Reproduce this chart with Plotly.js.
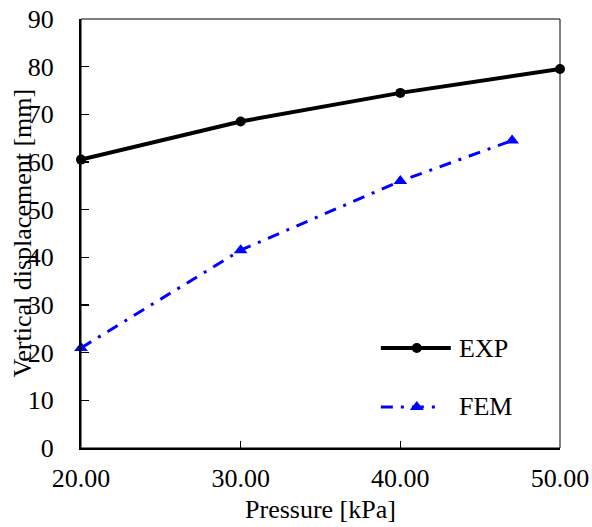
<!DOCTYPE html>
<html>
<head>
<meta charset="utf-8">
<script src="https://cdn.plot.ly/plotly-3.0.1.min.js"></script>
<style>
  html, body { margin: 0; padding: 0; background: #fff; }
  #chart { width: 592px; height: 527px; }
</style>
</head>
<body>
<div id="chart"></div>
<script>
// Measured vertical displacement vs applied pressure
var expPressure = [20, 30, 40, 50];
var expDisp = [60.5, 68.5, 74.5, 79.5];

// Finite element prediction
var femPressure = [20, 30, 40, 47];
var femDisp = [21, 41.5, 56, 64.5];

var xTicks = [20, 30, 40, 50];
var yTicks = [0, 10, 20, 30, 40, 50, 60, 70, 80, 90];

var seriesNames = ['EXP', 'FEM'];
var xTitle = 'Pressure [kPa]';
var yTitle = 'Vertical displacement [mm]';

var serif = 'Liberation Serif';
var fs = 26;
var expStyle = {
  line: { color: '#000000', width: 4 },
  marker: { symbol: 'circle', size: 10, color: '#000000' }
};
var femStyle = {
  line: { color: '#0000FF', width: 3, dash: '12px,8px,3px,8px' },
  marker: { symbol: 'triangle-up', size: 12, color: '#0000FF' }
};

var traces = [
  {
    x: expPressure, y: expDisp, name: seriesNames[0],
    mode: 'lines+markers', line: expStyle.line, marker: expStyle.marker,
    cliponaxis: false, showlegend: false
  },
  {
    x: femPressure, y: femDisp, name: seriesNames[1],
    mode: 'lines+markers', line: femStyle.line, marker: femStyle.marker,
    cliponaxis: false, showlegend: false
  },
  // legend samples drawn on an overlay axis spanning the plot area
  {
    x: [0.626, 0.701, 0.772], y: [0.233, 0.233, 0.233],
    xaxis: 'x2', yaxis: 'y2', mode: 'lines', line: expStyle.line,
    hoverinfo: 'skip', showlegend: false
  },
  {
    x: [0.701], y: [0.233],
    xaxis: 'x2', yaxis: 'y2', mode: 'markers', marker: expStyle.marker,
    hoverinfo: 'skip', showlegend: false
  },
  {
    x: [0.626, 0.701, 0.752], y: [0.0956, 0.0956, 0.0956],
    xaxis: 'x2', yaxis: 'y2', mode: 'lines', line: femStyle.line,
    hoverinfo: 'skip', showlegend: false
  },
  {
    x: [0.701], y: [0.0956],
    xaxis: 'x2', yaxis: 'y2', mode: 'markers', marker: femStyle.marker,
    hoverinfo: 'skip', showlegend: false
  }
];

var layout = {
  width: 592, height: 527,
  margin: { l: 81, r: 32, t: 19, b: 79 },
  paper_bgcolor: '#ffffff',
  plot_bgcolor: '#ffffff',
  font: { family: serif, size: fs, color: '#000000' },
  showlegend: false,
  xaxis: {
    range: [20, 50],
    tickvals: xTicks,
    ticktext: xTicks.map(function (v) { return v.toFixed(2); }),
    ticks: 'inside', ticklen: 7, tickwidth: 1.5, tickcolor: '#000',
    showline: true, linecolor: '#000', linewidth: 2,
    showgrid: false, zeroline: false,
    ticklabelstandoff: 6,
    tickfont: { family: serif, size: fs },
    title: { text: xTitle, font: { family: serif, size: fs }, standoff: 8 }
  },
  yaxis: {
    range: [0, 90],
    tickvals: yTicks,
    ticks: 'inside', ticklen: 8, tickwidth: 1.5, tickcolor: '#000',
    showline: true, linecolor: '#000', linewidth: 2,
    showgrid: false, zeroline: false,
    ticklabelstandoff: 20,
    tickfont: { family: serif, size: fs }
  },
  xaxis2: { overlaying: 'x', range: [0, 1], visible: false, fixedrange: true },
  yaxis2: { overlaying: 'y', range: [0, 1], visible: false, fixedrange: true },
  shapes: [
    {
      type: 'rect', xref: 'paper', yref: 'paper', x0: 0, x1: 1, y0: 0, y1: 1,
      line: { color: '#000', width: 1 }, layer: 'above'
    }
  ],
  annotations: [
    // y-axis title, set close against the tick labels
    {
      xref: 'paper', yref: 'paper', x: -0.123, y: 0.5, xanchor: 'center', yanchor: 'middle',
      text: yTitle, textangle: -90, showarrow: false, font: { family: serif, size: fs }
    },
    {
      xref: 'paper', yref: 'paper', x: 0.785, y: 0.233, xanchor: 'left', yanchor: 'middle',
      text: seriesNames[0], showarrow: false, font: { family: serif, size: fs }
    },
    {
      xref: 'paper', yref: 'paper', x: 0.785, y: 0.0956, xanchor: 'left', yanchor: 'middle',
      text: seriesNames[1], showarrow: false, font: { family: serif, size: fs }
    }
  ]
};

Plotly.newPlot('chart', traces, layout, { displayModeBar: false, staticPlot: true });
</script>
</body>
</html>
